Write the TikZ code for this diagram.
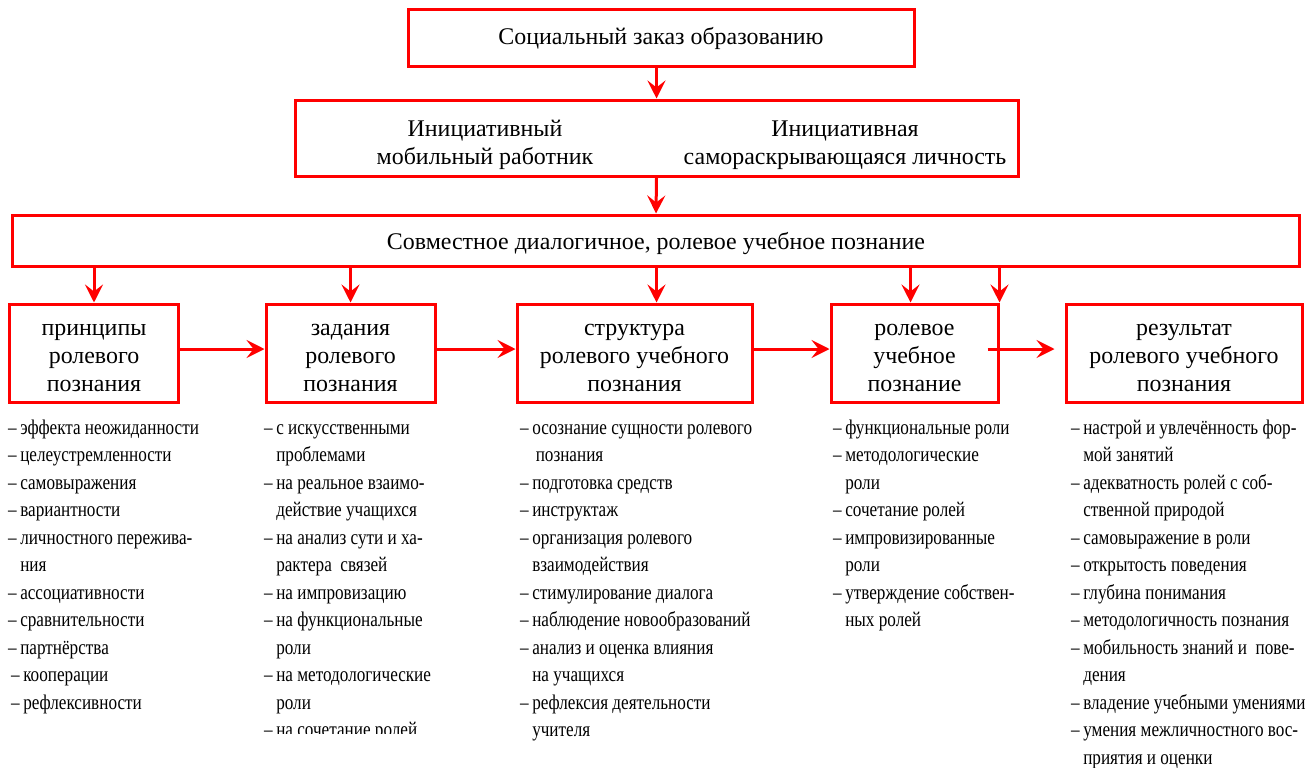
\documentclass[tikz,border=0pt]{standalone}
\usepackage{fontspec}
\setmainfont{Liberation Serif}
\newfontfamily\narrowfont{Liberation Serif}[FakeStretch=0.82]
\usetikzlibrary{arrows.meta,calc}

\definecolor{boxred}{RGB}{255,0,0}
\tikzset{
	redbox/.style={draw=boxred, line width=3bp, inner sep=0pt, align=center,
		font=\fontsize{24}{28}\selectfont},
	redarrow/.style={draw=boxred, line width=3bp,
		-{Stealth[length=18bp, width=18bp, inset=7bp]}},
	listtext/.style={anchor=north west, inner sep=0pt, align=left,
		font=\narrowfont\fontsize{21}{27.6}\selectfont}
}
\newcommand{\cont}{\phantom{–\,}}
\newcommand{\topgap}{\rule{0pt}{22bp}}

\begin{document}
\begin{tikzpicture}[x=1bp, y=-1bp]
	%%%%% START %%%%%
	\useasboundingbox (0, 0) rectangle (1313, 767);

	% upper levels
	\node[redbox, minimum width=506bp, minimum height=56bp] (zakaz) at (661, 38) {Социальный заказ образованию};
	\node[redbox, minimum width=723bp, minimum height=76bp] (goal) at (656.5, 138) {};
	\node[align=center, font=\fontsize{24}{28}\selectfont] (goalL) at (485, 145) {Инициативный\\мобильный работник};
	\node[align=center, font=\fontsize{24}{28}\selectfont] (goalR) at (845, 145) {Инициативная\\самораскрывающаяся личность};
	\node[redbox, text depth=0bp, minimum width=1286bp, minimum height=51bp] (joint) at (656, 240.5) {Совместное диалогичное, ролевое учебное познание};

	\draw[redarrow] (goal.north |- zakaz.south) -- (goal.north);
	\draw[redarrow] (goal.south) -- (joint.north);

	% row of boxes
	\node[redbox, minimum width=168bp, minimum height=98bp] (prin) at (94, 353) {\topgap принципы\\ролевого\\познания};
	\node[redbox, minimum width=169bp, minimum height=98bp] (task) at (350.5, 353) {\topgap задания\\ролевого\\познания};
	\node[redbox, minimum width=235bp, minimum height=98bp] (struct) at (634.5, 353) {\topgap структура\\ролевого учебного\\познания};
	\node[redbox, minimum width=167bp, minimum height=98bp] (role) at (914.5, 353) {\topgap ролевое\\учебное\\познание};
	\node[redbox, minimum width=236bp, minimum height=98bp] (res) at (1184, 353) {\topgap результат\\ролевого учебного\\познания};

	\draw[redarrow] (joint.south -| prin.north) -- (prin.north);
	\draw[redarrow] (joint.south -| task.north) -- (task.north);
	\draw[redarrow] (joint.south -| goal.south) -- (goal.south |- struct.north);
	\draw[redarrow] ([xshift=-4bp]joint.south -| role.north) -- ([xshift=-4bp]role.north);
	\draw[redarrow] (joint.south -| role.north east) -- (role.north east);

	\draw[redarrow] ([yshift=4bp]prin.east) -- ([yshift=4bp]task.west);
	\draw[redarrow] ([yshift=4bp]task.east) -- ([yshift=4bp]struct.west);
	\draw[redarrow] ([yshift=4bp]struct.east) -- ([yshift=4bp]role.west);
	\draw[redarrow] ([xshift=-12bp, yshift=4bp]role.east) -- ([xshift=-10bp, yshift=4bp]res.west);

	% lists
	\node[listtext] (l1) at (8, 415) {\strut–\,эффекта неожиданности\\
		–\,целеустремленности\\
		–\,самовыражения\\
		–\,вариантности\\
		–\,личностного пережива-\\
		\cont ния\\
		–\,ассоциативности\\
		–\,сравнительности\\
		–\,партнёрства\\
		\hspace{3bp}–\,кооперации\\
		\hspace{3bp}–\,рефлексивности};

	\begin{scope}
		\clip (250, 400) rectangle (515, 733);
		\node[listtext] (l2) at (264, 415) {\strut–\,с искусственными\\
			\cont проблемами\\
			–\,на реальное взаимо-\\
			\cont действие учащихся\\
			–\,на анализ сути и ха-\\
			\cont рактера~ связей\\
			–\,на импровизацию\\
			–\,на функциональные\\
			\cont роли\\
			–\,на методологические\\
			\cont роли\\
			–\,на сочетание ролей};
	\end{scope}

	\node[listtext] (l3) at (520, 415) {\strut–\,осознание сущности ролевого\\
		\cont\,познания\\
		–\,подготовка средств\\
		–\,инструктаж\\
		–\,организация ролевого\\
		\cont взаимодействия\\
		–\,стимулирование диалога\\
		–\,наблюдение новообразований\\
		–\,анализ и оценка влияния\\
		\cont на учащихся\\
		–\,рефлексия деятельности\\
		\cont учителя};

	\node[listtext] (l4) at (833, 415) {\strut–\,функциональные роли\\
		–\,методологические\\
		\cont роли\\
		–\,сочетание ролей\\
		–\,импровизированные\\
		\cont роли\\
		–\,утверждение собствен-\\
		\cont ных ролей};

	\node[listtext] (l5) at (1071, 415) {\strut–\,настрой и увлечённость фор-\\
		\cont мой занятий\\
		–\,адекватность ролей с соб-\\
		\cont ственной природой\\
		–\,самовыражение в роли\\
		–\,открытость поведения\\
		–\,глубина понимания\\
		–\,методологичность познания\\
		–\,мобильность знаний и~ пове-\\
		\cont дения\\
		–\,владение учебными умениями\\
		–\,умения межличностного вос-\\
		\cont приятия и оценки};
	%%%%% END %%%%%
\end{tikzpicture}
\end{document}
